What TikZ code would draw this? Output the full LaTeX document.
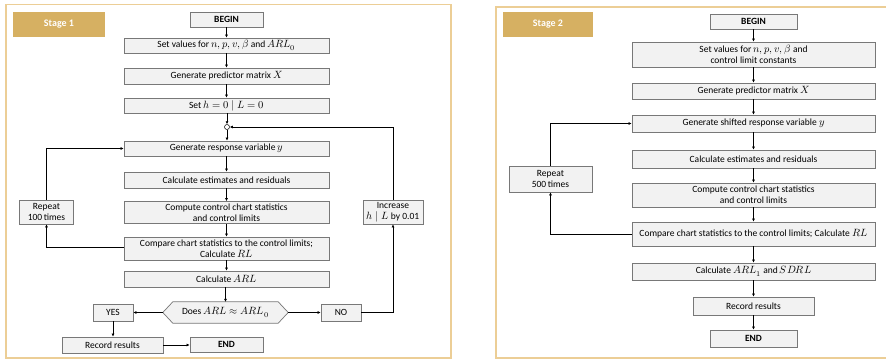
\documentclass[tikz,border=0pt]{standalone}
\usepackage{fontspec}
\usepackage{unicode-math}
\setmainfont{Carlito}
\setmathfont{Latin Modern Math}[Scale=MatchLowercase]
\usetikzlibrary{arrows.meta}
\definecolor{panelc}{RGB}{236,206,150}
\definecolor{stagec}{RGB}{214,176,98}
\definecolor{boxline}{RGB}{120,120,120}
\definecolor{boxfill}{RGB}{242,242,242}
\begin{document}
\begin{tikzpicture}[x=1pt,y=-1pt,
  box/.style={draw=boxline, fill=boxfill, line width=0.7pt, inner sep=0pt, align=center, font=\fontsize{9.5}{11}\selectfont},
  boldbox/.style={box, font=\fontsize{9.5}{11}\selectfont\bfseries},
  stagebox/.style={fill=stagec, inner sep=0pt, text=white, font=\fontsize{10}{12}\selectfont\bfseries},
  panel/.style={draw=panelc, line width=1.3pt},
  arr/.style={-{Latex[length=3pt,width=3pt]}, line width=0.6pt}]
\clip (0,0) rectangle (886,361);
\fill[white] (0,0) rectangle (886,361);
% panels
\draw[panel] (6,4.5) rectangle (451,358);
\draw[panel] (496,7) rectangle (900,358);
\node[stagebox, minimum width=92pt, minimum height=25pt] (st1) at (59,24.5) {Stage 1};
\node[stagebox, minimum width=90pt, minimum height=25pt] (st2) at (548,24.5) {Stage 2};
% ---------- Stage 1 ----------
\node[boldbox, minimum width=73pt, minimum height=15pt] (b1) at (226.5,19.5) {BEGIN};
\node[box, minimum width=205pt, minimum height=15pt] (s1) at (226.5,45.5) {Set values for $n, p, v, \beta$ and $ARL_0$};
\node[box, minimum width=205pt, minimum height=16pt] (g1) at (226.5,76) {Generate predictor matrix $X$};
\node[box, minimum width=205pt, minimum height=15pt] (h1) at (226.5,105.5) {Set $h=0 \mid L=0$};
\node[draw, circle, fill=white, line width=0.5pt, minimum size=5pt, inner sep=0pt] (c1) at (227,127) {};
\node[box, minimum width=205pt, minimum height=15pt] (r1) at (226.5,148.5) {Generate response variable $y$};
\node[box, minimum width=205pt, minimum height=16pt] (e1) at (226.5,180) {Calculate estimates and residuals};
\node[box, minimum width=205pt, minimum height=22pt] (k1) at (226.5,212.5) {Compute control chart statistics\\and control limits};
\node[box, minimum width=205pt, minimum height=23pt] (m1) at (226.5,248.5) {Compare chart statistics to the control limits;\\Calculate $RL$};
\node[box, minimum width=205pt, minimum height=16pt] (a1) at (226.5,279) {Calculate $ARL$};
\node[inner sep=0pt, minimum width=125pt, minimum height=21pt] (d1) at (225.5,312.5) {};
\draw[draw=boxline, fill=boxfill, line width=0.7pt] (d1.west) -- ([xshift=10pt]d1.north west) -- ([xshift=-10pt]d1.north east) -- (d1.east) -- ([xshift=-10pt]d1.south east) -- ([xshift=10pt]d1.south west) -- cycle;
\node[inner sep=0pt, font=\fontsize{9.5}{11}\selectfont] (d1t) at (d1) {Does $ARL \approx ARL_0$};
\node[box, minimum width=40pt, minimum height=17pt] (y1) at (113,312.5) {YES};
\node[box, minimum width=40pt, minimum height=17pt] (n1) at (341,312.5) {NO};
\node[box, minimum width=101pt, minimum height=16pt] (rr1) at (112.5,345) {Record results};
\node[boldbox, minimum width=73pt, minimum height=15pt] (en1) at (226.5,344.5) {END};
\node[box, minimum width=54pt, minimum height=24pt] (rp1) at (46.5,212) {Repeat\\100\,times};
\node[box, minimum width=60pt, minimum height=24pt] (in1) at (393,212) {Increase\\$h \mid L$ by 0.01};
\draw[arr] (b1) -- (s1);
\draw[arr] (s1) -- (g1);
\draw[arr] (g1) -- (h1);
\draw[arr] (h1.south -| c1) -- (c1);
\draw[arr] (c1) -- (r1.north -| c1);
\draw[arr] (r1) -- (e1);
\draw[arr] (e1) -- (k1);
\draw[arr] (k1) -- (m1);
\draw[arr] (m1) -- (a1);
\draw[arr] (a1.south -| d1) -- (d1);
\draw[arr] (d1.west) -- (y1.east);
\draw[arr] (d1.east) -- (n1.west);
\draw[arr] (n1.east) -| (in1.south);
\draw[arr] (in1.north) |- (c1.east);
\draw[arr] (y1.south) -- (rr1.north -| y1.south);
\draw[arr] (rr1.east) -- (en1.west |- rr1.east);
\coordinate (lp1) at (rp1.south |- 0,247);
\draw[arr] (m1.west |- lp1) -| (rp1.south);
\draw[arr] (rp1.north) |- (r1.west);
% ---------- Stage 2 ----------
\node[boldbox, minimum width=87pt, minimum height=15pt] (b2) at (753.5,21.5) {BEGIN};
\node[box, minimum width=243pt, minimum height=25pt] (s2) at (753.5,54.5) {Set values for $n, p, v, \beta$ and\\control limit constants};
\node[box, minimum width=243pt, minimum height=16pt] (g2) at (753.5,91) {Generate predictor matrix $X$};
\node[box, minimum width=243pt, minimum height=17pt] (r2) at (753.5,123.5) {Generate shifted response variable $y$};
\node[box, minimum width=243pt, minimum height=18pt] (e2) at (753.5,159) {Calculate estimates and residuals};
\node[box, minimum width=243pt, minimum height=24pt] (k2) at (753.5,195) {Compute control chart statistics\\and control limits};
\node[box, minimum width=243pt, minimum height=24pt] (m2) at (753.5,234) {Compare chart statistics to the control limits; Calculate $RL$};
\node[box, minimum width=243pt, minimum height=17pt] (a2) at (753.5,271.5) {Calculate $ARL_1$ and $SDRL$};
\node[box, minimum width=121pt, minimum height=18pt] (rr2) at (753.5,306) {Record results};
\node[boldbox, minimum width=87pt, minimum height=17pt] (en2) at (753.5,338.5) {END};
\node[box, minimum width=83pt, minimum height=26pt] (rp2) at (550.5,179) {Repeat\\500\,times};
\draw[arr] (b2) -- (s2);
\draw[arr] (s2) -- (g2);
\draw[arr] (g2) -- (r2);
\draw[arr] (r2) -- (e2);
\draw[arr] (e2) -- (k2);
\draw[arr] (k2) -- (m2);
\draw[arr] (m2) -- (a2);
\draw[arr] (a2) -- (rr2);
\draw[arr] (rr2) -- (en2);
\draw[arr] (m2.west) -| (rp2.south);
\draw[arr] (rp2.north) |- (r2.west);
\end{tikzpicture}
\end{document}
